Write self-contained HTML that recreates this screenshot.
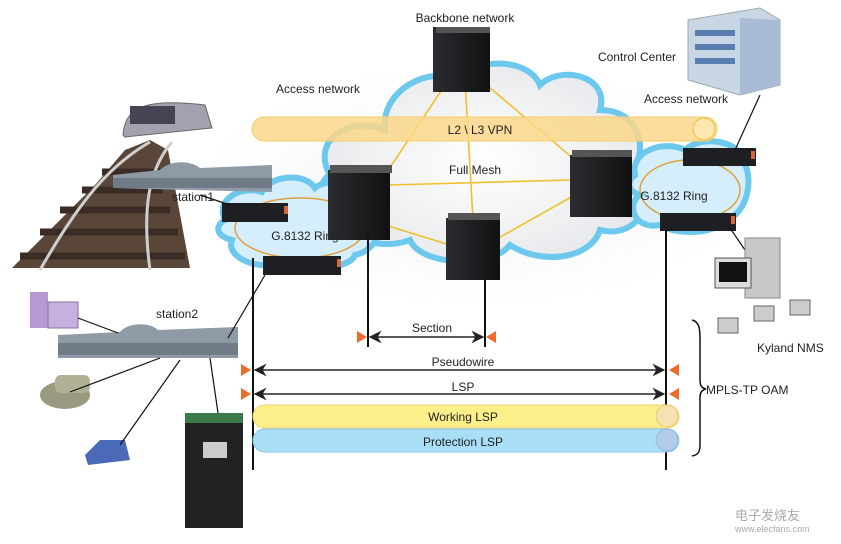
<!DOCTYPE html>
<html><head><meta charset="utf-8"><style>
html,body{margin:0;padding:0;background:#fff;}
svg{display:block;font-family:"Liberation Sans","Noto Sans CJK SC",sans-serif;}
</style></head><body>
<svg width="841" height="544" viewBox="0 0 841 544" xmlns="http://www.w3.org/2000/svg">
<defs>
<radialGradient id="cg" cx="50%" cy="50%" r="60%"><stop offset="0" stop-color="#fff"/><stop offset="1" stop-color="#e4e7ea"/></radialGradient>
<radialGradient id="bg" cx="50%" cy="50%" r="50%"><stop offset="0" stop-color="#e6e8eb"/><stop offset="1" stop-color="#fff" stop-opacity="0"/></radialGradient>
<linearGradient id="srv" x1="0" y1="0" x2="1" y2="0"><stop offset="0" stop-color="#2a2c30"/><stop offset="1" stop-color="#111"/></linearGradient>
<marker id="ah" viewBox="0 0 10 10" refX="9" refY="5" markerWidth="10" markerHeight="8" orient="auto-start-reverse"><path d="M0,0 L10,5 L0,10 L3,5z" fill="#222"/></marker>
</defs>
<rect width="841" height="544" fill="#fff"/>
<ellipse cx="480" cy="185" rx="320" ry="135" fill="url(#bg)"/>
<path d="M330,175 C310,140 350,115 385,130 C380,90 430,65 460,80 C480,55 530,60 540,85 C560,65 610,75 600,110 C640,110 650,150 630,175 C660,195 640,240 600,230 C590,260 540,265 510,245 C490,270 420,265 410,240 C370,255 320,225 340,200 C320,195 318,182 330,175z" fill="url(#cg)" stroke="#6cc8ec" stroke-width="6"/>
<path d="M225,220 C215,200 240,185 262,192 C270,175 305,172 315,188 C330,175 370,185 372,205 C390,215 380,250 355,255 C350,270 300,272 285,262 C260,272 225,258 232,240 C215,236 215,225 225,220z" fill="#d4eefb" stroke="#6cc8ec" stroke-width="6"/>
<ellipse cx="300" cy="228" rx="65" ry="30" fill="none" stroke="#e0a040" stroke-width="1.5"/>
<path d="M635,175 C630,150 665,140 685,150 C700,135 740,140 742,160 C755,175 748,215 725,220 C715,235 675,235 660,225 C635,230 625,205 640,195 C625,190 628,180 635,175z" fill="#d4eefb" stroke="#6cc8ec" stroke-width="6"/>
<ellipse cx="690" cy="190" rx="50" ry="30" fill="none" stroke="#e0a040" stroke-width="1.5"/>
<g stroke="#f0c030" stroke-width="1.6" fill="none">
<line x1="455" y1="70" x2="385" y2="175"/><line x1="465" y1="80" x2="473" y2="220"/><line x1="475" y1="75" x2="575" y2="160"/>
<line x1="390" y1="185" x2="570" y2="180"/><line x1="385" y1="225" x2="450" y2="245"/><line x1="495" y1="240" x2="575" y2="195"/>
</g>
<rect x="252" y="117" width="465" height="24" rx="12" fill="#fcd78a" fill-opacity="0.85" stroke="#f5cd6c"/>
<circle cx="704" cy="129" r="11" fill="#fde6b0" stroke="#f0c040"/>
<text x="480" y="134" font-size="12" text-anchor="middle" fill="#222">L2 \ L3 VPN</text>
<g>
<rect x="433" y="27" width="57" height="65" fill="url(#srv)"/><rect x="436" y="27" width="54" height="6" fill="#555"/>
<rect x="328" y="170" width="62" height="70" fill="url(#srv)"/><rect x="330" y="165" width="62" height="8" fill="#555"/>
<rect x="446" y="218" width="54" height="62" fill="url(#srv)"/><rect x="448" y="213" width="52" height="7" fill="#555"/>
<rect x="570" y="155" width="62" height="62" fill="url(#srv)"/><rect x="572" y="150" width="60" height="7" fill="#555"/>
</g>
<g fill="#1e1f22">
<rect x="222" y="203" width="66" height="19"/><rect x="263" y="256" width="78" height="19"/>
<rect x="683" y="148" width="73" height="18"/><rect x="660" y="213" width="76" height="18"/>
</g>
<g fill="#d8643a"><rect x="284" y="206" width="4" height="8"/><rect x="337" y="259" width="4" height="8"/><rect x="751" y="151" width="4" height="8"/><rect x="731" y="216" width="4" height="8"/></g>
<text x="465" y="22" font-size="12" text-anchor="middle" fill="#222">Backbone network</text>
<text x="637" y="61" font-size="12" text-anchor="middle" fill="#222">Control Center</text>
<text x="318" y="93" font-size="12" text-anchor="middle" fill="#222">Access network</text>
<text x="686" y="103" font-size="12" text-anchor="middle" fill="#222">Access network</text>
<text x="475" y="174" font-size="12" text-anchor="middle" fill="#222">Full Mesh</text>
<text x="305" y="240" font-size="12" text-anchor="middle" fill="#222">G.8132 Ring</text>
<text x="674" y="200" font-size="12" text-anchor="middle" fill="#222">G.8132 Ring</text>
<polygon points="688,20 760,8 780,20 780,85 740,95 688,80" fill="#c9d6e6" stroke="#9aa" stroke-width="1"/>
<polygon points="740,18 780,20 780,85 740,95" fill="#a9bcd6"/>
<g fill="#5a7db0"><rect x="695" y="30" width="40" height="6"/><rect x="695" y="44" width="40" height="6"/><rect x="695" y="58" width="40" height="6"/></g>
<!-- tracks -->
<polygon points="12,268 95,185 125,150 150,140 168,150 190,268" fill="#5a4638"/>
<g stroke="#3a2c24" stroke-width="7"><line x1="20" y1="256" x2="185" y2="256"/><line x1="40" y1="232" x2="178" y2="232"/><line x1="60" y1="210" x2="170" y2="210"/><line x1="82" y1="190" x2="163" y2="190"/><line x1="102" y1="172" x2="160" y2="172"/></g>
<g stroke="#d0d0d0" stroke-width="3" fill="none"><path d="M40,270 C80,200 110,165 150,142"/><path d="M150,270 C142,210 148,170 172,142"/></g>
<path d="M123,135 C125,110 140,97 205,105 L212,128 L125,137z" fill="#a2a2ae" stroke="#666"/>
<rect x="130" y="106" width="45" height="18" fill="#445"/>
<path d="M113,175 L160,170 C170,160 190,160 200,168 L272,165 L272,192 L113,188z" fill="#8e9aa6"/>
<rect x="113" y="178" width="159" height="10" fill="#6f7c88"/>
<path d="M58,335 L120,332 C128,322 150,322 158,330 L238,327 L238,358 L58,358z" fill="#8e9aa6"/>
<rect x="58" y="343" width="180" height="12" fill="#6f7c88"/>
<text x="172" y="201" font-size="12" fill="#222">station1</text>
<text x="156" y="318" font-size="12" fill="#222">station2</text>
<rect x="30" y="292" width="18" height="36" fill="#b49ad0"/><rect x="48" y="302" width="30" height="26" fill="#c6b0e0" stroke="#8870a0"/>
<ellipse cx="65" cy="395" rx="25" ry="14" fill="#9a9a80"/><rect x="55" y="375" width="35" height="18" rx="6" fill="#b0b094"/>
<polygon points="85,455 100,440 125,440 130,460 88,465" fill="#4a6ab8"/>
<rect x="185" y="413" width="58" height="115" fill="#222"/><rect x="185" y="413" width="58" height="10" fill="#3c7a4a"/><rect x="203" y="442" width="24" height="16" fill="#ccc"/>
<g stroke="#111" stroke-width="1.2" fill="none">
<line x1="78" y1="318" x2="118" y2="333"/><line x1="70" y1="392" x2="160" y2="358"/><line x1="120" y1="445" x2="180" y2="360"/><line x1="210" y1="358" x2="218" y2="413"/>
<line x1="228" y1="338" x2="265" y2="275"/><line x1="200" y1="195" x2="230" y2="205"/>
<line x1="735" y1="150" x2="760" y2="95"/><line x1="730" y1="228" x2="745" y2="250"/>
</g>
<rect x="745" y="238" width="35" height="60" fill="#c8c8c8" stroke="#888"/>
<rect x="715" y="258" width="36" height="30" fill="#ddd" stroke="#555"/><rect x="719" y="262" width="28" height="20" fill="#111"/>
<g fill="#ccc" stroke="#666"><rect x="718" y="318" width="20" height="15"/><rect x="754" y="306" width="20" height="15"/><rect x="790" y="300" width="20" height="15"/></g>
<text x="757" y="352" font-size="12" fill="#222">Kyland NMS</text>
<g stroke="#111" stroke-width="2">
<line x1="253" y1="258" x2="253" y2="470"/><line x1="368" y1="235" x2="368" y2="347"/><line x1="485" y1="278" x2="485" y2="347"/><line x1="666" y1="230" x2="666" y2="470"/>
</g>
<g stroke="#222" stroke-width="1.6">
<line x1="370" y1="337" x2="483" y2="337" marker-start="url(#ah)" marker-end="url(#ah)"/>
<line x1="255" y1="370" x2="664" y2="370" marker-start="url(#ah)" marker-end="url(#ah)"/>
<line x1="255" y1="394" x2="664" y2="394" marker-start="url(#ah)" marker-end="url(#ah)"/>
</g>
<g fill="#ec6d2c">
<polygon points="357,331 367,337 357,343"/><polygon points="496,331 486,337 496,343"/>
<polygon points="241,364 251,370 241,376"/><polygon points="241,388 251,394 241,400"/>
<polygon points="679,364 669,370 679,376"/><polygon points="679,388 669,394 679,400"/>
</g>
<text x="432" y="332" font-size="12" text-anchor="middle" fill="#222">Section</text>
<text x="463" y="366" font-size="12" text-anchor="middle" fill="#222">Pseudowire</text>
<text x="463" y="391" font-size="12" text-anchor="middle" fill="#222">LSP</text>
<rect x="253" y="405" width="426" height="23" rx="11.5" fill="#fdf08a" stroke="#f3d27a"/>
<circle cx="667" cy="416" r="11" fill="#f5e2b0" stroke="#f0c870"/>
<rect x="253" y="429" width="426" height="23" rx="11.5" fill="#a8def6" stroke="#8fc6e6"/>
<circle cx="667" cy="440" r="11" fill="#b0cce8" stroke="#98b8dc"/>
<text x="463" y="421" font-size="12" text-anchor="middle" fill="#222">Working LSP</text>
<text x="463" y="446" font-size="12" text-anchor="middle" fill="#222">Protection LSP</text>
<path d="M692,320 C700,322 700,330 700,340 L700,380 C700,386 702,388 706,389 C702,390 700,392 700,398 L700,445 C700,452 698,455 692,456" fill="none" stroke="#111" stroke-width="1.5"/>
<text x="706" y="394" font-size="12" fill="#222">MPLS-TP OAM</text>
<text x="735" y="520" font-size="13" fill="#aaa">电子发烧友</text>
<text x="735" y="532" font-size="9" fill="#aaa">www.elecfans.com</text>
</svg>
</body></html>
